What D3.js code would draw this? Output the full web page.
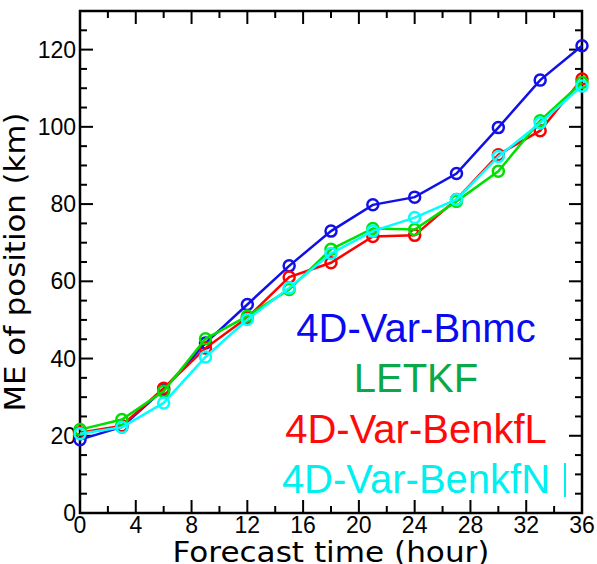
<!DOCTYPE html>
<html>
<head>
<meta charset="utf-8">
<script src="https://cdn.jsdelivr.net/npm/d3@7"></script>
<style>
  body { margin: 0; background: #fff; }
  svg { display: block; }
  .tick-label { font-family: "Liberation Sans", Arial, sans-serif; font-size: 23px; fill: #000; }
  .axis-title { font-family: "DejaVu Sans", sans-serif; font-size: 28px; fill: #000; }
  .legend { font-family: "Liberation Sans", Arial, sans-serif; font-size: 40px; }
</style>
</head>
<body>
<div id="svg-wrapper"></div>
<script>
var width = 597;
var height = 564;

// forecast hours
var hours = [0, 3, 6, 9, 12, 15, 18, 21, 24, 27, 30, 33, 36];

// ME of position (km)
var bnmc   = [19.0, 22.3, 32.0, 44.0, 54.0, 64.0, 73.0, 79.8, 81.8, 87.9, 99.8, 112.1, 121.0];
var letkf  = [21.6, 24.2, 31.5, 45.1, 51.0, 57.9, 68.3, 73.7, 73.4, 80.7, 88.5, 101.6, 111.5];
var benkfL = [20.8, 22.6, 32.3, 42.7, 50.6, 61.1, 64.8, 71.6, 71.9, 81.2, 92.8, 99.0, 112.4];
var benkfN = [20.5, 22.2, 28.5, 40.4, 50.1, 58.3, 67.2, 73.0, 76.5, 81.2, 92.3, 101.0, 110.6];

var seriesNames = ["4D-Var-Bnmc", "LETKF", "4D-Var-BenkfL", "4D-Var-BenkfN"];
var lineColors = ["#1010e8", "#00e000", "#ff0000", "#00ffff"];
var textColors = ["#0a0af0", "#0aa84a", "#ff0a0a", "#00f0f0"];

var xTicks = [0, 4, 8, 12, 16, 20, 24, 28, 32, 36];
var yTicks = [0, 20, 40, 60, 80, 100, 120];

var plotLeft = 80, plotRight = 582, plotTop = 11, plotBottom = 513;

var x = d3.scaleLinear().domain([0, 36]).range([plotLeft, plotRight]);
var y = d3.scaleLinear().domain([0, 130]).range([plotBottom, plotTop]);

var svg = d3.select("#svg-wrapper").append("svg")
  .attr("width", width)
  .attr("height", height);

svg.append("rect")
  .attr("width", width)
  .attr("height", height)
  .attr("fill", "#fff");

// inward ticks on all four sides
var majorLen = 13, minorLen = 7;
var g = svg.append("g").attr("stroke", "#000").attr("stroke-width", 2);

d3.range(0, 37, 2).forEach(function(t) {
  var len = t % 4 === 0 ? majorLen : minorLen;
  g.append("line").attr("x1", x(t)).attr("x2", x(t)).attr("y1", plotBottom).attr("y2", plotBottom - len);
  g.append("line").attr("x1", x(t)).attr("x2", x(t)).attr("y1", plotTop).attr("y2", plotTop + len);
});
d3.range(0, 131, 5).forEach(function(v) {
  var len = v % 20 === 0 ? majorLen : minorLen;
  g.append("line").attr("y1", y(v)).attr("y2", y(v)).attr("x1", plotLeft).attr("x2", plotLeft + len);
  g.append("line").attr("y1", y(v)).attr("y2", y(v)).attr("x1", plotRight).attr("x2", plotRight - len);
});

g.append("rect")
  .attr("x", plotLeft).attr("y", plotTop)
  .attr("width", plotRight - plotLeft).attr("height", plotBottom - plotTop)
  .attr("fill", "none")
  .attr("stroke-width", 2.5);

svg.selectAll(".xlab")
  .data(xTicks)
  .enter().append("text")
  .attr("class", "tick-label")
  .attr("x", function(d) { return x(d); })
  .attr("y", 533)
  .attr("text-anchor", "middle")
  .text(function(d) { return d; });

svg.selectAll(".ylab")
  .data(yTicks)
  .enter().append("text")
  .attr("class", "tick-label")
  .attr("x", 76)
  .attr("y", function(d) { return y(d) + 8; })
  .attr("text-anchor", "end")
  .text(function(d) { return d; });

svg.append("text")
  .attr("class", "axis-title")
  .attr("x", 331)
  .attr("y", 562)
  .attr("text-anchor", "middle")
  .attr("textLength", 317)
  .attr("lengthAdjust", "spacingAndGlyphs")
  .text("Forecast time (hour)");

svg.append("text")
  .attr("class", "axis-title")
  .attr("transform", "translate(25,262) rotate(-90)")
  .attr("text-anchor", "middle")
  .attr("textLength", 299)
  .attr("lengthAdjust", "spacingAndGlyphs")
  .text("ME of position (km)");

var allSeries = [bnmc, benkfL, letkf, benkfN];
var order = [0, 2, 1, 3];

var line = d3.line()
  .x(function(d, i) { return x(hours[i]); })
  .y(function(d) { return y(d); });

allSeries.forEach(function(vals, k) {
  var color = lineColors[order[k]];
  var sg = svg.append("g");
  sg.append("path")
    .datum(vals)
    .attr("d", line)
    .attr("fill", "none")
    .attr("stroke", color)
    .attr("stroke-width", 2.5);
  sg.selectAll("circle")
    .data(vals)
    .enter().append("circle")
    .attr("cx", function(d, i) { return x(hours[i]); })
    .attr("cy", function(d) { return y(d); })
    .attr("r", 5.5)
    .attr("fill", "none")
    .attr("stroke", color)
    .attr("stroke-width", 2.5);
});

// legend, centred text lines
var legendY = [342, 392, 443, 493];
svg.selectAll(".legend")
  .data(seriesNames)
  .enter().append("text")
  .attr("class", "legend")
  .attr("x", 416)
  .attr("y", function(d, i) { return legendY[i]; })
  .attr("text-anchor", "middle")
  .attr("fill", function(d, i) { return textColors[i]; })
  .text(function(d) { return d; });

// stray cursor mark after the last legend entry
svg.append("line")
  .attr("x1", 565).attr("x2", 565)
  .attr("y1", 463).attr("y2", 497)
  .attr("stroke", "#00f0f0")
  .attr("stroke-width", 2);
</script>
</body>
</html>
